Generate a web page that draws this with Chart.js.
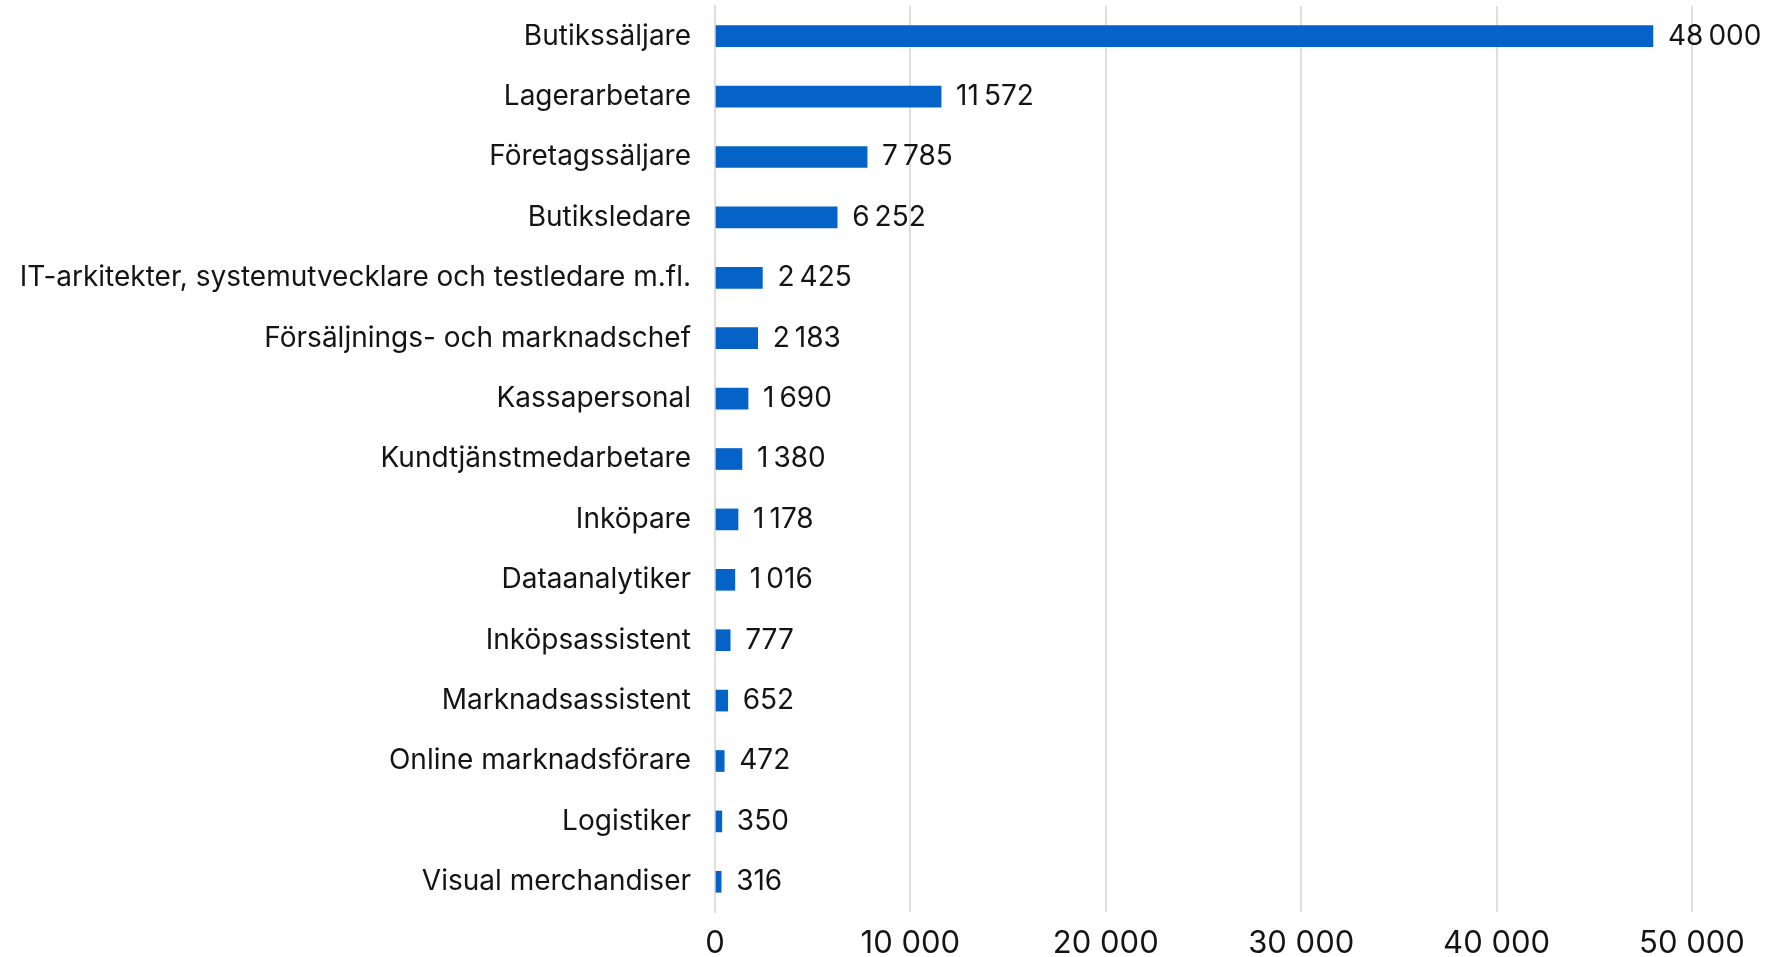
<!DOCTYPE html>
<html lang="sv">
<head>
<meta charset="utf-8">
<title>Yrken</title>
<script src="https://cdn.jsdelivr.net/npm/chart.js@4.4.1/dist/chart.umd.min.js"></script>
<style>
  html, body { margin: 0; padding: 0; background: #ffffff; }
  #wrap { position: relative; width: 1767px; height: 957px; }
</style>
</head>
<body>
<div id="wrap"><canvas id="chart" width="1767" height="957"></canvas></div>
<script>
// Occupations and counts
const categories = [
  'Butikssäljare',
  'Lagerarbetare',
  'Företagssäljare',
  'Butiksledare',
  'IT-arkitekter, systemutvecklare och testledare m.fl.',
  'Försäljnings- och marknadschef',
  'Kassapersonal',
  'Kundtjänstmedarbetare',
  'Inköpare',
  'Dataanalytiker',
  'Inköpsassistent',
  'Marknadsassistent',
  'Online marknadsförare',
  'Logistiker',
  'Visual merchandiser'
];
const counts = [48000, 11572, 7785, 6252, 2425, 2183, 1690, 1380, 1178, 1016, 777, 652, 472, 350, 316];
const axisTicks = [0, 10000, 20000, 30000, 40000, 50000];

const FONT = "Inter, 'Liberation Sans', Arial, sans-serif";
const LABEL_SIZE = 28;
const TICK_SIZE = 31;
const TEXT = '#141414';

// Swedish digit grouping: 48 000
function fmt(v, sep) {
  return String(Math.round(v)).replace(/\B(?=(\d{3})+(?!\d))/g, sep);
}

// Writes each bar's value just past its end
const valueLabels = {
  id: 'valueLabels',
  afterDatasetsDraw(chart) {
    const ctx = chart.ctx;
    const meta = chart.getDatasetMeta(0);
    ctx.save();
    ctx.font = LABEL_SIZE + 'px ' + FONT;
    ctx.fillStyle = TEXT;
    ctx.textAlign = 'left';
    ctx.textBaseline = 'middle';
    meta.data.forEach((bar, i) => {
      ctx.fillText(fmt(counts[i], '\u2009'), bar.x + 15, bar.y);
    });
    ctx.restore();
  }
};

new Chart(document.getElementById('chart'), {
  type: 'bar',
  data: {
    labels: categories,
    datasets: [{
      data: counts,
      backgroundColor: '#0563c8',
      borderWidth: 0,
      barThickness: 21
    }]
  },
  options: {
    indexAxis: 'y',
    responsive: false,
    animation: false,
    layout: { padding: { top: 6, right: 75, bottom: 0, left: 0 } },
    plugins: {
      legend: { display: false },
      tooltip: { enabled: false }
    },
    scales: {
      x: {
        min: 0,
        max: 50000,
        afterBuildTicks(scale) {
          scale.ticks = axisTicks.map(v => ({ value: v }));
        },
        afterFit(scale) { scale.height = 45; },
        grid: { color: '#dedede', lineWidth: 2, drawTicks: false },
        border: { display: false },
        ticks: {
          color: TEXT,
          padding: 13,
          maxRotation: 0,
          font: { family: FONT, size: TICK_SIZE },
          callback: v => fmt(v, ' ')
        }
      },
      y: {
        afterFit(scale) { scale.width = 715; },
        // tick marks are hidden; their length only sets the gap before the labels
        grid: { display: false, drawTicks: true, tickLength: 24 },
        border: { display: true, color: '#dedede', width: 2 },
        ticks: {
          color: TEXT,
          padding: 0,
          autoSkip: false,
          font: { family: FONT, size: LABEL_SIZE, lineHeight: 0.4 }
        }
      }
    }
  },
  plugins: [valueLabels]
});
</script>
</body>
</html>
